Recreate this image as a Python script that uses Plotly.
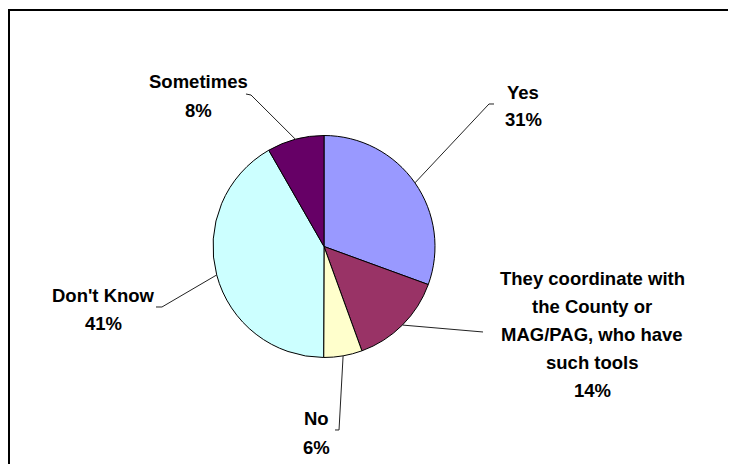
import math
import plotly.graph_objects as go

# ---- data ----
categories = ["Yes",
              "They coordinate with the County or MAG/PAG, who have such tools",
              "No", "Don't Know", "Sometimes"]
values = [30.6, 13.9, 5.6, 41.7, 8.3]
pct_labels = ["31%", "14%", "6%", "41%", "8%"]
label_lines = [["Yes"],
               ["They coordinate with", "the County or", "MAG/PAG, who have", "such tools"],
               ["No"],
               ["Don't Know"],
               ["Sometimes"]]
colors = ["#9999FF", "#993366", "#FFFFCC", "#CCFFFF", "#660066"]

# ---- layout (window pixels; the page body has an 8px margin) ----
OFF = 8
W, H = 736 - OFF, 464 - OFF
CX, CY, R = 324, 246.5, 111
# label anchor: (center x, first line y, line spacing)
label_pos = [(523, 93, 26), (592, 278, 28), (316, 418, 29), (103, 295, 28), (198, 82, 28)]
# leader line points from label side (ending at the slice rim)
leader_pts = [[(494, 104), (489, 104)],
              [(483, 332)],
              [(335, 430), (339, 430)],
              [(156, 307), (162, 307)],
              [(246, 94), (251, 95)]]


def px(x):
    return (x - OFF) / W


def py(y):
    return 1 - (y - OFF) / H


fig = go.Figure(go.Pie(
    labels=categories, values=values, sort=False, direction="clockwise",
    rotation=0, textinfo="none", hoverinfo="label+percent",
    marker=dict(colors=colors, line=dict(color="#000000", width=1)),
    domain=dict(x=[px(CX - R), px(CX + R)], y=[py(CY + R), py(CY - R)]),
    showlegend=False,
))

annotations = []
shapes = []
total = sum(values)
cum = 0
FONT = dict(family="Liberation Sans, Arial, sans-serif", size=18.5, color="#000000")
for i, v in enumerate(values):
    mid = (cum + v / 2) / total * 2 * math.pi
    cum += v
    ex = CX + R * math.sin(mid)
    ey = CY - R * math.cos(mid)
    lx, ly, sp = label_pos[i]
    lines = label_lines[i] + [pct_labels[i]]
    for k, t in enumerate(lines):
        annotations.append(dict(
            x=px(lx), y=py(ly + k * sp), xref="paper", yref="paper",
            text="<b>%s</b>" % t, showarrow=False, font=FONT,
            xanchor="center", yanchor="middle"))
    pts = leader_pts[i] + [(ex, ey)]
    path = "M " + " L ".join("%.4f,%.4f" % (px(a), py(b)) for a, b in pts)
    shapes.append(dict(type="path", path=path, xref="paper", yref="paper",
                       line=dict(color="#222222", width=1)))

# outer frame
shapes.append(dict(type="rect", xref="paper", yref="paper",
                   x0=px(9), x1=px(733), y0=py(475), y1=py(10),
                   line=dict(color="#000000", width=2), fillcolor="rgba(0,0,0,0)"))

fig.update_layout(
    width=W, height=H, margin=dict(l=0, r=0, t=0, b=0),
    paper_bgcolor="#FFFFFF", plot_bgcolor="#FFFFFF",
    annotations=annotations, shapes=shapes,
)
fig.write_html("out.html")
